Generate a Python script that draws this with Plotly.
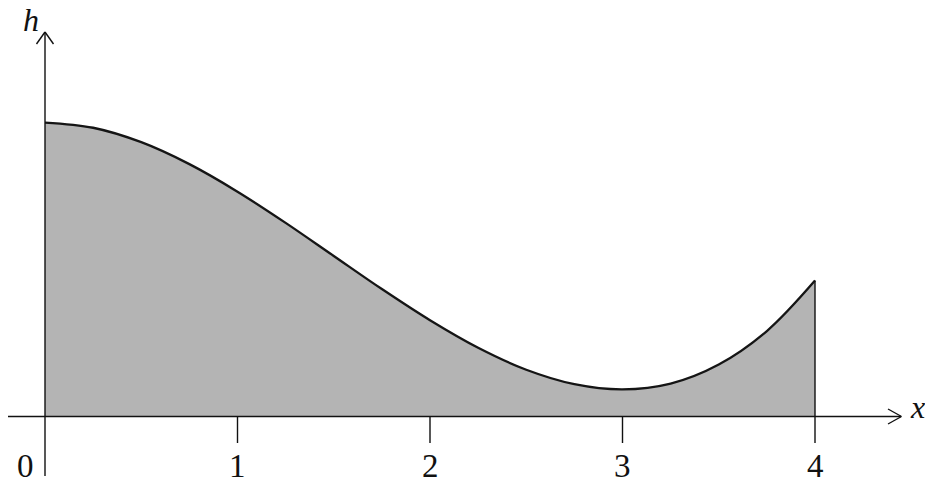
import plotly.graph_objects as go

# data
x_vals = [0, 0.25, 0.5, 0.75, 1, 1.25, 1.5, 1.75, 2, 2.25, 2.5, 2.75, 3, 3.25, 3.5, 3.75, 4]
h_vals = [1.527, 1.500, 1.425, 1.311, 1.168, 1.006, 0.834, 0.662, 0.500, 0.357, 0.243,
          0.168, 0.141, 0.171, 0.270, 0.444, 0.706]
tick_vals = [0, 1, 2, 3, 4]
tick_labels = ["0", "1", "2", "3", "4"]

W, H = 925, 484
S = 192.5          # px per unit
OX, OY = 45, 416.5  # origin in px (from top-left)

def X(px):
    return (px - OX) / S

def Y(py):
    return (OY - py) / S

fig = go.Figure()
fig.add_trace(go.Scatter(
    x=x_vals, y=h_vals, mode="lines", line=dict(color="#151515", width=2.3, shape="spline"),
    fill="tozeroy", fillcolor="#b4b4b4", hoverinfo="skip", showlegend=False))

BLK = "#111111"
LW = 1.4
shapes = []
def seg(x0, y0, x1, y1, w=LW):
    shapes.append(dict(type="line", xref="x", yref="y", x0=x0, y0=y0, x1=x1, y1=y1,
                       line=dict(color=BLK, width=w), layer="above"))

# x axis with arrow
seg(X(8), 0, X(901), 0)
seg(X(888), Y(409), X(901.5), 0)
seg(X(888), Y(424), X(901.5), 0)
# y axis with arrow
seg(0, Y(476), 0, Y(32))
seg(X(36.5), Y(44), 0, Y(32))
seg(X(53.5), Y(44), 0, Y(32))
# ticks
for t in tick_vals[1:]:
    seg(t, 0, t, Y(443))
# right edge of region
seg(x_vals[-1], 0, x_vals[-1], h_vals[-1])

annotations = []
FONT = "Liberation Serif, Times New Roman, serif"
for t, lab in zip(tick_vals, tick_labels):
    xp = X(25.5) if t == 0 else t
    annotations.append(dict(x=xp, y=Y(466), xref="x", yref="y", text=lab, showarrow=False,
                            xanchor="center", yanchor="middle",
                            font=dict(family=FONT, size=33, color=BLK)))
annotations.append(dict(x=X(31), y=Y(20), xref="x", yref="y", text="<i>h</i>", showarrow=False,
                        xanchor="center", yanchor="middle",
                        font=dict(family=FONT, size=32, color=BLK)))
annotations.append(dict(x=X(917), y=Y(407), xref="x", yref="y", text="<i>x</i>", showarrow=False,
                        xanchor="center", yanchor="middle",
                        font=dict(family=FONT, size=32, color=BLK)))

fig.update_layout(
    width=W, height=H, margin=dict(l=0, r=0, t=0, b=0),
    paper_bgcolor="white", plot_bgcolor="white",
    xaxis=dict(range=[X(0), X(W)], visible=False, fixedrange=True),
    yaxis=dict(range=[Y(H), Y(0)], visible=False, fixedrange=True),
    shapes=shapes, annotations=annotations, showlegend=False)

fig.write_html("out.html", config={"displayModeBar": False},
               post_script="document.body.style.margin='0';document.body.style.overflow='hidden';")
